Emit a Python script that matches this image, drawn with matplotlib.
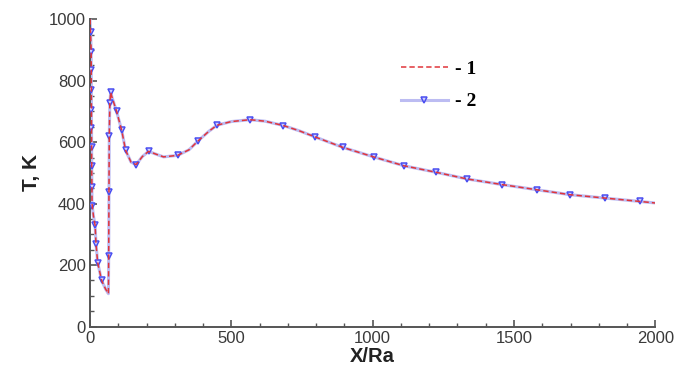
import matplotlib
matplotlib.use("Agg")
import matplotlib.pyplot as plt
from matplotlib.ticker import MultipleLocator
from matplotlib.lines import Line2D

# smooth curve (both solutions follow it)
x_curve = [0, 4, 5, 6, 7, 12, 18, 21, 27, 41, 55, 65, 66, 67, 68, 70, 73, 78, 94,
           112, 126, 145, 163, 185, 207, 230, 260, 310, 350, 381, 420, 449, 500,
           566, 620, 684, 740, 796, 894, 1003, 1111, 1224, 1335, 1457, 1581,
           1698, 1822, 1946, 2000]
t_curve = [1000, 900, 700, 520, 400, 360, 329, 270, 208, 150, 122, 107, 231, 437,
           619, 726, 762, 745, 700, 638, 573, 535, 527, 553, 570, 562, 552, 557,
           575, 603, 635, 655, 667, 673, 668, 654, 637, 617, 583, 552, 523, 502,
           480, 462, 445, 429, 418, 407, 402]

# marker positions of solution 2
x_mark = [4, 4, 5, 5, 5, 5, 6, 6, 6, 7, 18, 21, 27, 41, 66, 67, 68, 70, 73, 94,
          112, 126, 163, 207, 310, 381, 449, 566, 684, 796, 894, 1003, 1111,
          1224, 1335, 1457, 1581, 1698, 1822, 1946]
t_mark = [958, 893, 834, 769, 704, 645, 583, 521, 453, 391, 329, 270, 208, 150,
          231, 437, 619, 726, 762, 700, 638, 573, 527, 570, 557, 603, 655, 673,
          654, 617, 583, 552, 523, 502, 480, 462, 445, 429, 418, 407]

labels = ["- 1", "- 2"]

red = "#e0353a"
lineblue = "#bcbcf2"
markblue = "#4a4ef0"
gray = "#555555"

fig = plt.figure(figsize=(6.77, 3.69), dpi=100)
ax = fig.add_axes([0.133, 0.115, 0.835, 0.833])

ax.plot(x_curve, t_curve, color=lineblue, lw=2.2, zorder=2)
ax.plot(x_mark, t_mark, ls="none", marker="v", ms=5, mfc="#d0d0ff",
        mec=markblue, mew=1.1, zorder=3)
ax.plot(x_curve, t_curve, color=red, lw=1.1, ls=(0, (3.5, 2)), zorder=4)

ax.set_xlim(0, 2000)
ax.set_ylim(0, 1000)
ax.xaxis.set_major_locator(MultipleLocator(500))
ax.xaxis.set_minor_locator(MultipleLocator(100))
ax.yaxis.set_major_locator(MultipleLocator(200))
ax.yaxis.set_minor_locator(MultipleLocator(50))

for s in ["top", "right"]:
    ax.spines[s].set_visible(False)
for s in ["left", "bottom"]:
    ax.spines[s].set_color(gray)
    ax.spines[s].set_linewidth(1.4)

ax.tick_params(which="major", direction="in", length=5, width=1.2, color=gray,
               labelsize=12, labelcolor="#3a3a3a", pad=3)
ax.tick_params(which="minor", direction="in", length=3, width=1, color=gray)
for lab in ax.get_xticklabels() + ax.get_yticklabels():
    lab.set_family("Liberation Sans")

ax.set_xlabel("X/Ra", fontsize=14.5, fontweight="bold", family="Liberation Sans",
              color="#222222", labelpad=1)
ax.set_ylabel("T, K", fontsize=15, fontweight="bold", family="Liberation Sans",
              color="#222222", labelpad=6)

handles = [
    Line2D([], [], color=red, lw=1.1, ls=(0, (3.5, 2))),
    Line2D([], [], color=lineblue, lw=2.2, marker="v", ms=5, mfc="#d0d0ff",
           mec=markblue, mew=1.1),
]
leg = ax.legend(handles, labels, loc="upper left",
                bbox_to_anchor=(0.578, 0.862), bbox_transform=fig.transFigure,
                frameon=False, handlelength=2.4, handletextpad=0.35,
                labelspacing=0.75, borderpad=0,
                prop={"family": "Liberation Serif", "weight": "bold", "size": 14})

fig.savefig("out.png", dpi=100)
